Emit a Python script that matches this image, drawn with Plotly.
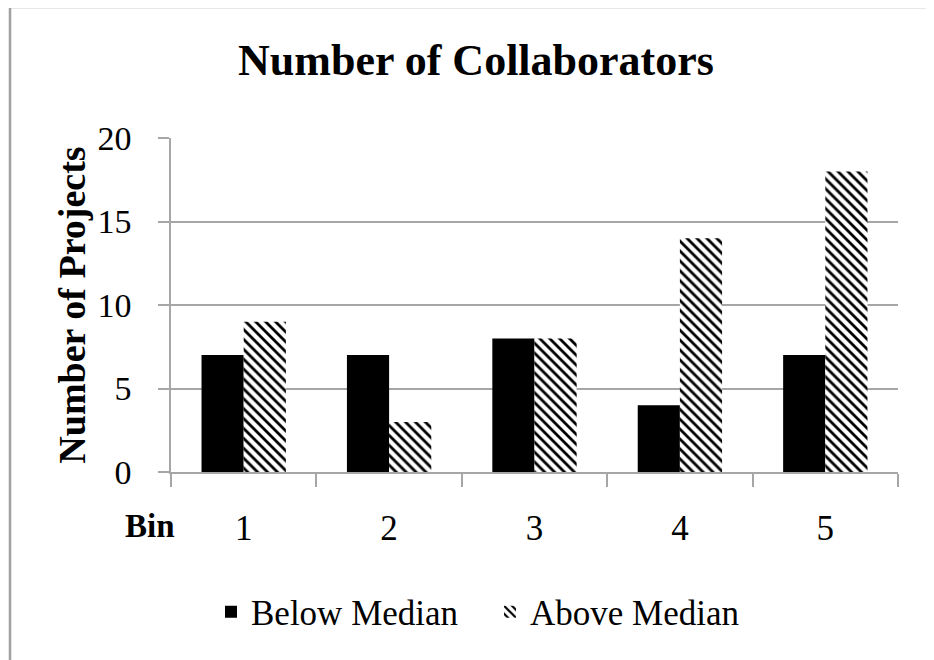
import plotly.graph_objects as go

categories = ["1", "2", "3", "4", "5"]
below_median = [7, 7, 8, 4, 7]
above_median = [9, 3, 8, 14, 18]
y_ticks = [0, 5, 10, 15, 20]

W, H = 934, 660
OFF = 8  # page offset of the plot in the browser
L, T = 171 - OFF, 138 - OFF
R = W - (898 - OFF)
B = H - (472 - OFF)
pw, ph = W - L - R, H - T - B

def px(x):
    # screen x -> paper
    return (x - OFF - L) / pw

def py(y):
    # screen y -> paper
    return (H - B - (y - OFF)) / ph

FONT = "Liberation Serif"
GRID = "#a6a6a6"

fig = go.Figure()
fig.add_trace(go.Bar(
    x=categories, y=below_median, name="Below Median",
    marker=dict(color="black", line=dict(width=0)),
))
fig.add_trace(go.Bar(
    x=categories, y=above_median, name="Above Median",
    marker=dict(color="white", line=dict(width=0),
                pattern=dict(shape="\\", size=7, solidity=0.4,
                             fgcolor="black", bgcolor="white", fillmode="replace")),
))

fig.update_layout(
    width=W, height=H,
    margin=dict(l=L, r=R, t=T, b=B),
    paper_bgcolor="white", plot_bgcolor="white",
    barmode="group", bargap=0.42, bargroupgap=0,
    font=dict(family=FONT, color="black", size=33),
    title=dict(text="<b>Number of Collaborators</b>", x=(476 - OFF) / W, xref="container",
               xanchor="center", y=1 - (60 - OFF) / H, yref="container", yanchor="middle",
               font=dict(family=FONT, size=44, color="black")),
    legend=dict(orientation="h", xref="container", x=(228 - OFF - 17) / W, xanchor="left",
                yref="container", y=1 - (612 - OFF) / H, yanchor="middle",
                font=dict(family=FONT, size=35, color="black"),
                traceorder="normal", itemwidth=30,
                entrywidth=234, entrywidthmode="pixels"),
    showlegend=True,
)
fig.update_yaxes(
    range=[0, 20], tickvals=y_ticks, showgrid=True, gridcolor=GRID, gridwidth=1.5,
    showline=True, linecolor=GRID, linewidth=1.5,
    ticks="outside", ticklen=11, tickcolor=GRID, tickwidth=1.5,
    tickfont=dict(family=FONT, size=34, color="black"),
    ticklabelstandoff=20,
    title=dict(text="<b>Number of Projects</b>", font=dict(family=FONT, size=38, color="black"),
               standoff=0),
    zeroline=False,
)
fig.update_xaxes(
    showline=True, linecolor=GRID, linewidth=1.5,
    ticks="outside", tickson="boundaries", ticklen=13, tickcolor=GRID, tickwidth=1.5,
    tickfont=dict(family=FONT, size=35, color="black"),
    ticklabelstandoff=24,
)
fig.add_annotation(text="<b>Bin</b>", xref="paper", yref="paper",
                   x=px(150), y=py(526), xanchor="center", yanchor="middle",
                   showarrow=False, font=dict(family=FONT, size=33, color="black"))
fig.add_shape(type="path", xref="paper", yref="paper",
              path=f"M {px(10)} {py(H+20)} L {px(10)} {py(7)} L {px(W+20)} {py(7)}",
              line=dict(color="#a0a0a0", width=2.5), layer="above")

fig.write_html("out.html")
